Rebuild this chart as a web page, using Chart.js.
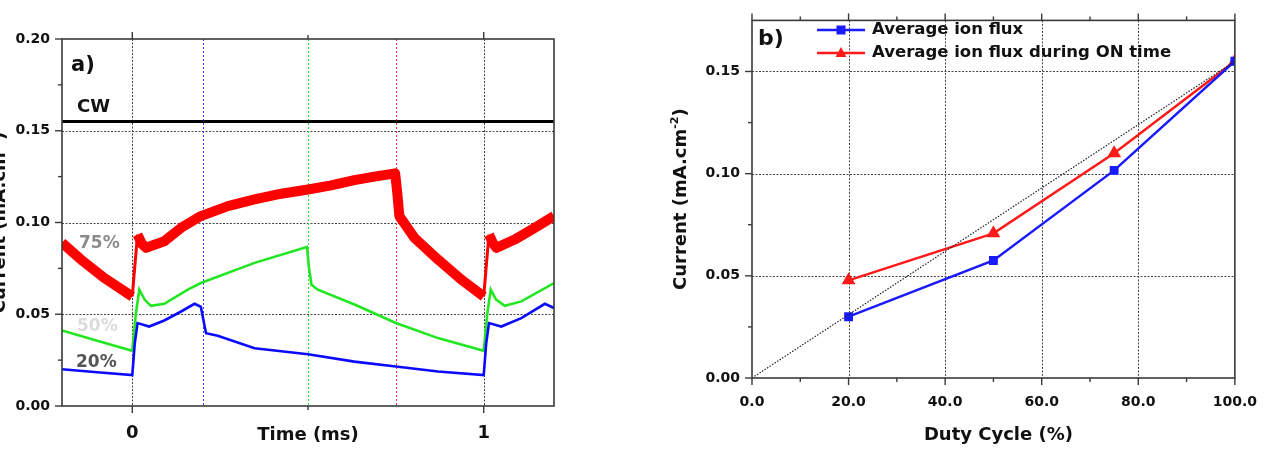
<!DOCTYPE html>
<html><head><meta charset="utf-8">
<script src="https://cdn.jsdelivr.net/npm/chart.js@4/dist/chart.umd.min.js"></script>
<style>
html,body{margin:0;padding:0;background:#fff;}
#wrap{position:relative;width:1273px;height:449px;overflow:hidden;background:#fff;}
#c1{position:absolute;left:0;top:0;}
#c2{position:absolute;left:640px;top:0;}
</style></head><body>
<div id="wrap"><canvas id="c1" width="640" height="449"></canvas><canvas id="c2" width="633" height="449"></canvas></div>
<script>
// ---------- Panel a) data : time (ms) and current (mA.cm-2) ----------
const t20 = [-0.2, -0.1, 0.0, 0.007, 0.015, 0.048, 0.091, 0.139, 0.177, 0.195, 0.206, 0.21, 0.243, 0.348, 0.5, 0.632, 0.75, 0.87, 1.0, 1.007, 1.015, 1.05, 1.107, 1.174, 1.2];
const i20 = [0.0200, 0.0184, 0.0169, 0.034, 0.0452, 0.0433, 0.0466, 0.0515, 0.0557, 0.0541, 0.0433, 0.0397, 0.0383, 0.0315, 0.0282, 0.0242, 0.0215, 0.0188, 0.0169, 0.034, 0.0452, 0.0433, 0.0479, 0.0557, 0.0534];
const t50 = [-0.2, -0.1, 0.0, 0.01, 0.02, 0.035, 0.053, 0.091, 0.158, 0.195, 0.348, 0.497, 0.503, 0.51, 0.528, 0.634, 0.75, 0.87, 1.0, 1.01, 1.02, 1.035, 1.06, 1.107, 1.2];
const i50 = [0.0412, 0.0355, 0.0301, 0.050, 0.0634, 0.058, 0.0546, 0.0557, 0.0634, 0.067, 0.078, 0.0867, 0.075, 0.0661, 0.0634, 0.0552, 0.0452, 0.037, 0.0301, 0.050, 0.0634, 0.058, 0.0546, 0.057, 0.067];
const t75 = [-0.2, -0.146, -0.08, 0.0, 0.008, 0.015, 0.027, 0.039, 0.091, 0.139, 0.195, 0.272, 0.348, 0.424, 0.5, 0.566, 0.632, 0.689, 0.748, 0.754, 0.76, 0.803, 0.87, 0.936, 1.0, 1.008, 1.015, 1.027, 1.036, 1.088, 1.145, 1.2];
const i75 = [0.0889, 0.0798, 0.0698, 0.0597, 0.078, 0.0934, 0.0885, 0.0862, 0.0898, 0.0971, 0.1035, 0.1089, 0.1126, 0.1157, 0.118, 0.1202, 0.1231, 0.125, 0.1268, 0.1162, 0.1035, 0.0916, 0.0798, 0.0689, 0.0597, 0.078, 0.0934, 0.0885, 0.0862, 0.0907, 0.0971, 0.1035];
const tCW = [-0.2, 1.2];
const iCW = [0.155, 0.155];
const offTimes = [0.2, 0.5, 0.75];          // end of ON time for 20%, 50%, 75%
const xTicksA = [0, 1];
const xMinorA = [0.5];
const yTicksA = [0, 0.05, 0.10, 0.15, 0.20];
const yMinorA = [0.025, 0.075, 0.125, 0.175];
const gridXA = [0, 1];
const gridYA = [0.05, 0.10, 0.15];

// ---------- Panel b) data ----------
const duty = [20, 50, 75, 100];
const avgFlux = [0.030, 0.0575, 0.1016, 0.155];
const onFlux = [0.0478, 0.0708, 0.110, 0.155];
const diagX = [0, 100];
const diagY = [0, 0.155];
const xTicksB = [0, 20, 40, 60, 80, 100];
const xMinorB = [10, 30, 50, 70, 90];
const yTicksB = [0, 0.05, 0.10, 0.15];
const yMinorB = [0.025, 0.075, 0.125];
const gridXB = [20, 40, 60, 80];
const gridYB = [0.05, 0.10, 0.15];

const FAM = "'DejaVu Sans', sans-serif";
Chart.defaults.font.family = FAM;
Chart.defaults.font.weight = 'bold';
Chart.defaults.color = '#111';
const xy = (xs, ys) => xs.map((x, i) => ({x: x, y: ys[i]}));
const f = (s) => 'bold ' + s + 'px ' + FAM;

function seg(ctx, x1, y1, x2, y2) { ctx.beginPath(); ctx.moveTo(x1, y1); ctx.lineTo(x2, y2); ctx.stroke(); }

function drawTitleY(ctx, cx, cy) {
  ctx.save();
  ctx.translate(cx, cy);
  ctx.rotate(-Math.PI / 2);
  ctx.fillStyle = '#111';
  const a = 'Current (mA.cm', s = '-2', b = ')';
  ctx.font = f(18); const wa = ctx.measureText(a).width, wb = ctx.measureText(b).width;
  ctx.font = f(11); const ws = ctx.measureText(s).width;
  let x0 = -(wa + ws + wb) / 2;
  ctx.textBaseline = 'alphabetic'; ctx.textAlign = 'left';
  ctx.font = f(18); ctx.fillText(a, x0, 0);
  ctx.font = f(11); ctx.fillText(s, x0 + wa, -8);
  ctx.font = f(18); ctx.fillText(b, x0 + wa + ws, 0);
  ctx.restore();
}

function drawFrameTicks(chart, xMaj, xMin, yMaj, yMin) {
  const {ctx, chartArea: a, scales: {x, y}} = chart;
  ctx.save();
  ctx.setLineDash([]);
  ctx.strokeStyle = '#3a3a3a'; ctx.lineWidth = 1.6;
  ctx.strokeRect(a.left, a.top, a.right - a.left, a.bottom - a.top);
  ctx.lineWidth = 1.4;
  for (const v of xMaj) { const p = x.getPixelForValue(v); seg(ctx, p, a.bottom, p, a.bottom + 7); seg(ctx, p, a.top, p, a.top - 7); }
  for (const v of xMin) { const p = x.getPixelForValue(v); seg(ctx, p, a.bottom, p, a.bottom + 4); seg(ctx, p, a.top, p, a.top - 4); }
  for (const v of yMaj) { const p = y.getPixelForValue(v); seg(ctx, a.left, p, a.left - 7, p); }
  for (const v of yMin) { const p = y.getPixelForValue(v); seg(ctx, a.left, p, a.left - 4, p); }
  ctx.restore();
}

function drawDottedGrid(chart, gx, gy) {
  const {ctx, chartArea: a, scales: {x, y}} = chart;
  ctx.save();
  ctx.setLineDash([2, 1.5]); ctx.lineWidth = 1; ctx.strokeStyle = '#444';
  for (const v of gy) { const p = Math.round(y.getPixelForValue(v)) + 0.5; seg(ctx, a.left, p, a.right, p); }
  for (const v of gx) { const p = Math.round(x.getPixelForValue(v)) + 0.5; seg(ctx, p, a.top, p, a.bottom); }
  ctx.restore();
}

const decoA = {
  id: 'decoA',
  beforeDatasetsDraw(chart) {
    const {ctx, chartArea: a, scales: {x, y}} = chart;
    ctx.save();
    ctx.font = f(17); ctx.textBaseline = 'alphabetic';
    ctx.fillStyle = '#8c8c8c'; ctx.fillText('75%', a.left + 17, 248);
    ctx.fillStyle = '#dcdcdc'; ctx.fillText('50%', a.left + 15, 331);
    ctx.fillStyle = '#555555'; ctx.fillText('20%', a.left + 14, 367);
    ctx.restore();
    drawDottedGrid(chart, gridXA, gridYA);
    ctx.save();
    ctx.setLineDash([2, 2]); ctx.lineWidth = 1;
    const cols = ['#3a3aff', '#33dd33', '#ff3030'];
    offTimes.forEach((v, i) => { const p = Math.round(x.getPixelForValue(v)) + 0.5; ctx.strokeStyle = cols[i]; seg(ctx, p, a.top, p, a.bottom); });
    ctx.restore();
  },
  afterDatasetsDraw(chart) {
    const {ctx, chartArea: a, scales: {x}} = chart;
    drawFrameTicks(chart, xTicksA, xMinorA, yTicksA, yMinorA);
    ctx.save();
    ctx.fillStyle = '#111'; ctx.textBaseline = 'alphabetic';
    ctx.font = f(21); ctx.fillText('a)', a.left + 9, 71);
    ctx.font = f(18); ctx.fillText('CW', a.left + 15, 112);
    ctx.textAlign = 'center';
    ctx.fillText('Time (ms)', x.getPixelForValue(0.5), 440);
    ctx.restore();
    drawTitleY(ctx, 5, (a.top + a.bottom) / 2);
  }
};

const decoB = {
  id: 'decoB',
  beforeDatasetsDraw(chart) { drawDottedGrid(chart, gridXB, gridYB); },
  afterDatasetsDraw(chart) {
    const {ctx, chartArea: a} = chart;
    drawFrameTicks(chart, xTicksB, xMinorB, yTicksB, yMinorB);
    ctx.save();
    ctx.fillStyle = '#111'; ctx.textBaseline = 'alphabetic';
    ctx.font = f(22); ctx.fillText('b)', a.left + 6, 45);
    ctx.font = f(18); ctx.textAlign = 'center';
    ctx.fillText('Duty Cycle (%)', (a.left + a.right) / 2 + 5, 440);
    // legend
    const items = [chart.data.datasets[1], chart.data.datasets[2]];
    const ys = [30, 53];
    items.forEach((d, i) => {
      const yy = ys[i], x1 = a.left + 65, x2 = a.left + 113, xm = (x1 + x2) / 2;
      ctx.strokeStyle = d.borderColor; ctx.lineWidth = 2.5; ctx.setLineDash([]);
      seg(ctx, x1, yy, x2, yy);
      ctx.fillStyle = d.borderColor;
      if (d.pointStyle === 'rect') { ctx.fillRect(xm - 4.5, yy - 4.5, 9, 9); }
      else { ctx.beginPath(); ctx.moveTo(xm, yy - 6); ctx.lineTo(xm + 5.5, yy + 4); ctx.lineTo(xm - 5.5, yy + 4); ctx.closePath(); ctx.fill(); }
      ctx.fillStyle = '#111'; ctx.textAlign = 'left'; ctx.textBaseline = 'middle';
      ctx.font = f(16.5); ctx.fillText(d.label, x2 + 7, yy);
    });
    ctx.restore();
    drawTitleY(ctx, 46, (a.top + a.bottom) / 2);
  }
};

const setTicks = (arr) => (s) => { s.ticks = arr.map(v => ({value: v})); };

new Chart(document.getElementById('c1'), {
  type: 'scatter',
  data: {datasets: [
    {label: 'CW', data: xy(tCW, iCW), showLine: true, borderColor: '#000', borderWidth: 3, pointRadius: 0},
    {label: '20%', data: xy(t20, i20), showLine: true, borderColor: '#0a0aff', borderWidth: 2.6, pointRadius: 0},
    {label: '50%', data: xy(t50, i50), showLine: true, borderColor: '#22e622', borderWidth: 2.6, pointRadius: 0},
    {label: '75%', data: xy(t75, i75), showLine: true, borderColor: '#ff0000', borderWidth: 10, pointRadius: 0,
     borderJoinStyle: 'round', borderCapStyle: 'butt',
     segment: {borderWidth: c => (c.p1.parsed.y - c.p0.parsed.y > 0.01 && c.p1.parsed.x - c.p0.parsed.x < 0.02) ? 3 : 10}}
  ]},
  options: {
    responsive: false, animation: false,
    layout: {padding: {top: 39, right: 86, bottom: 0, left: 0}},
    plugins: {legend: {display: false}, tooltip: {enabled: false}},
    scales: {
      x: {type: 'linear', min: -0.2, max: 1.2, afterBuildTicks: setTicks(xTicksA),
          ticks: {callback: v => String(v), padding: 17, font: {size: 18, weight: 'bold'}, maxRotation: 0, autoSkip: false},
          grid: {display: false, drawTicks: false}, border: {display: false}, afterFit: s => { s.height = 43; }},
      y: {min: 0, max: 0.2, afterBuildTicks: setTicks(yTicksA),
          ticks: {callback: v => v.toFixed(2), padding: 12, font: {size: 14, weight: 'bold'}},
          grid: {display: false, drawTicks: false}, border: {display: false}, afterFit: s => { s.width = 62; }}
    }
  },
  plugins: [decoA]
});

new Chart(document.getElementById('c2'), {
  type: 'scatter',
  data: {datasets: [
    {label: 'diag', data: xy(diagX, diagY), showLine: true, borderColor: '#222', borderWidth: 1.2, borderDash: [1.5, 1.5], pointRadius: 0},
    {label: 'Average ion flux', data: xy(duty, avgFlux), showLine: true, borderColor: '#1a1aff', backgroundColor: '#1a1aff',
     borderWidth: 2.5, pointStyle: 'rect', pointRadius: 4.5, pointBackgroundColor: '#1a1aff', pointBorderColor: '#1a1aff'},
    {label: 'Average ion flux during ON time', data: xy(duty, onFlux), showLine: true, borderColor: '#ff1a1a', backgroundColor: '#ff1a1a',
     borderWidth: 2.5, pointStyle: 'triangle', pointRadius: 5.5, pointBackgroundColor: '#ff1a1a', pointBorderColor: '#ff1a1a'}
  ]},
  options: {
    responsive: false, animation: false,
    layout: {padding: {top: 13, right: 26, bottom: 0, left: 0}},
    plugins: {legend: {display: false}, tooltip: {enabled: false}},
    scales: {
      x: {type: 'linear', min: 0, max: 100, afterBuildTicks: setTicks(xTicksB),
          ticks: {callback: v => v.toFixed(1), padding: 16, font: {size: 14, weight: 'bold'}, maxRotation: 0, autoSkip: false},
          grid: {display: false, drawTicks: false}, border: {display: false}, afterFit: s => { s.height = 71; }},
      y: {min: 0, max: 0.175, afterBuildTicks: setTicks(yTicksB),
          ticks: {callback: v => v.toFixed(2), padding: 12, font: {size: 14, weight: 'bold'}},
          grid: {display: false, drawTicks: false}, border: {display: false}, afterFit: s => { s.width = 112; }}
    }
  },
  plugins: [decoB]
});
</script>
</body></html>
